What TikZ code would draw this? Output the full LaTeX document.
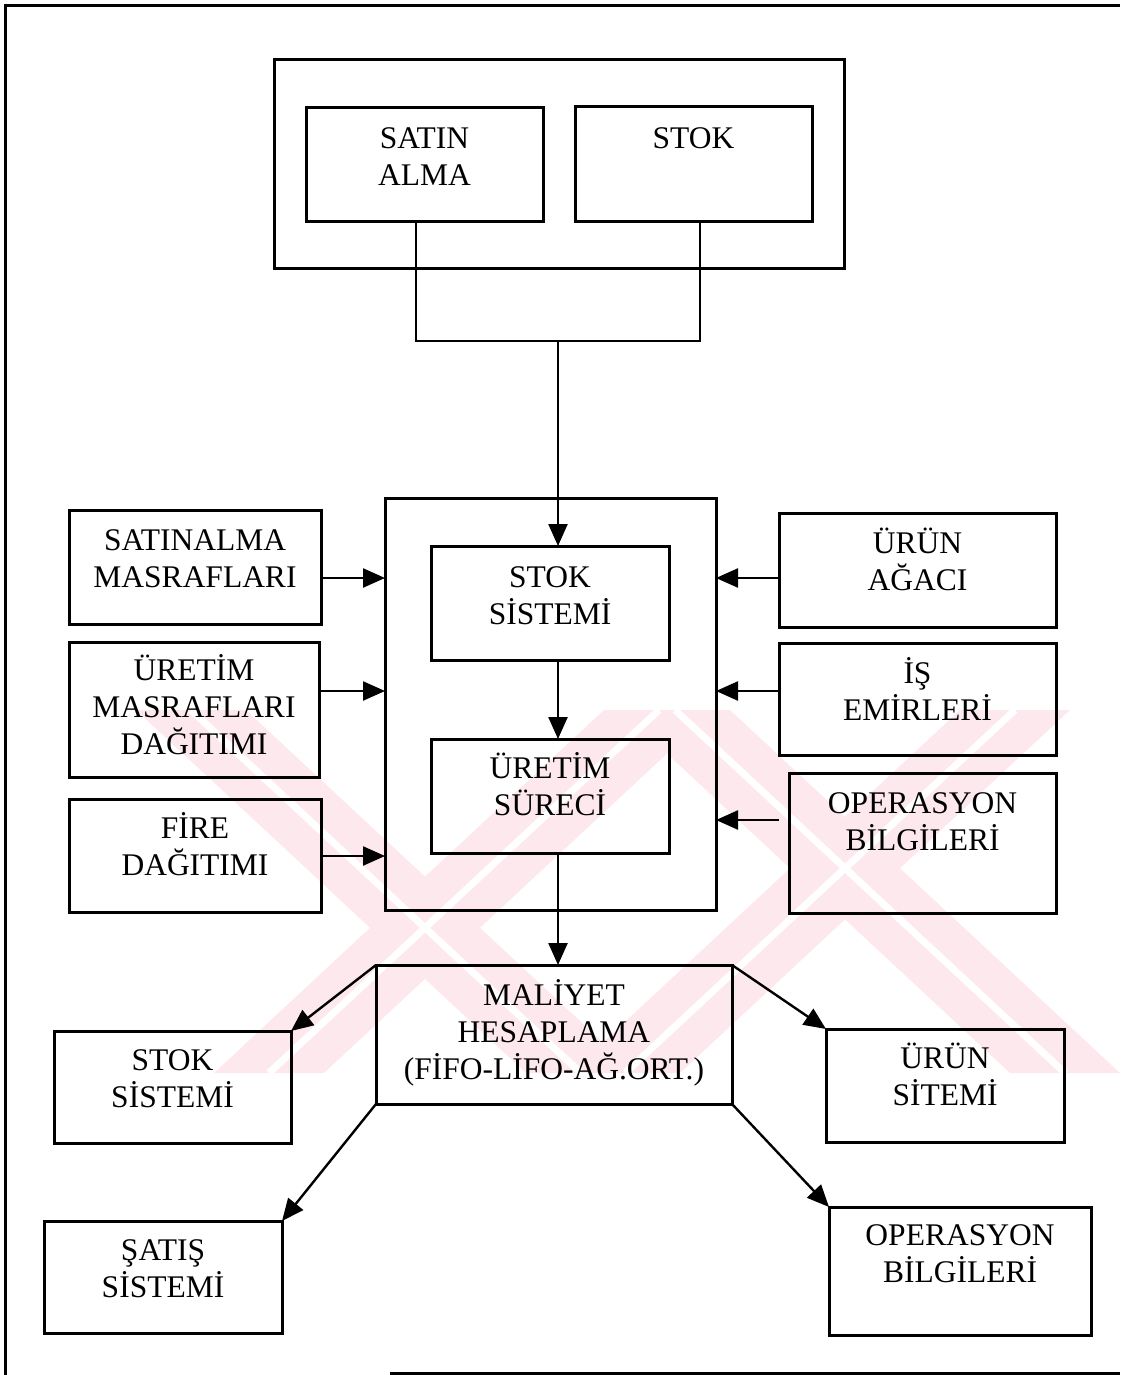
\documentclass[tikz,border=0pt]{standalone}
\usepackage{fontspec}
\setmainfont{Liberation Serif}
\usetikzlibrary{arrows.meta}
\definecolor{wmpink}{RGB}{253,233,237}
% fixed first-line height so every label starts at the same offset
\newcommand\lh{\rule{0pt}{30pt}}
\begin{document}
\begin{tikzpicture}[x=1pt,y=-1pt,
  box/.style={draw, line width=3pt, inner sep=0pt, outer sep=0pt},
  lbl/.style={anchor=north, yshift=19.6pt, align=center, inner sep=0pt,
              font=\fontsize{31.5}{37}\selectfont},
  conn/.style={line width=2.4pt},
  arr/.style={conn, -{Triangle[length=22pt,width=19pt]}},
  frameline/.style={line width=3pt},
  wmband/.style={fill=wmpink, draw=none},
  wmgap/.style={draw=white, line width=7pt},
]
\useasboundingbox (0,0) rectangle (1120,1375);

% faint background emblem
\begin{scope}
  \clip (60,710) rectangle (1120,1073);
  \fill[wmband] (136,710) -- (246,710) -- (636,1073) -- (526,1073) -- cycle;
  \fill[wmband] (214,1073) -- (324,1073) -- (714,710) -- (604,710) -- cycle;
  \fill[wmband] (620,710) -- (730,710) -- (1120,1073) -- (1010,1073) -- cycle;
  \fill[wmband] (570,1073) -- (680,1073) -- (1070,710) -- (960,710) -- cycle;
  \draw[wmgap] (191,710) -- (581,1073);
  \draw[wmgap] (269,1073) -- (659,710);
  \draw[wmgap] (675,710) -- (1065,1073);
  \draw[wmgap] (625,1073) -- (1015,710);
\end{scope}

% page frame
\draw[frameline] (5,1375) -- (5,6) -- (1120,6);
\draw[frameline] (390,1373) -- (1120,1373);

% top group
\node[box, minimum width=570pt, minimum height=208pt] (topc) at (559,164) {};
\node[box, minimum width=237pt, minimum height=113pt] (satin) at (424.5,164.5) {};
\node[box, minimum width=237pt, minimum height=114pt] (stok) at (693.5,164) {};
\node[lbl] (satin-t) at (424.5,138) {\lh SATIN\\ALMA};
\node[lbl] (stok-t) at (693.5,138) {\lh STOK};

% central process
\node[box, minimum width=331pt, minimum height=412pt] (midc) at (550.5,704) {};
\node[box, minimum width=238pt, minimum height=114pt] (stoks) at (550,603) {};
\node[box, minimum width=238pt, minimum height=114pt] (uret) at (550,796) {};
\node[lbl] (stoks-t) at (550,577) {\lh STOK\\SİSTEMİ};
\node[lbl] (uret-t) at (550,768) {\lh ÜRETİM\\SÜRECİ};

% left inputs
\node[box, minimum width=252pt, minimum height=114pt] (smas) at (195,567) {};
\node[box, minimum width=250pt, minimum height=135pt] (umas) at (194,709.5) {};
\node[box, minimum width=252pt, minimum height=113pt] (fire) at (195,855.5) {};
\node[lbl] (smas-t) at (195,540) {\lh SATINALMA\\MASRAFLARI};
\node[lbl] (umas-t) at (194,670) {\lh ÜRETİM\\MASRAFLARI\\DAĞITIMI};
\node[lbl] (fire-t) at (195,828) {\lh FİRE\\DAĞITIMI};

% right inputs
\node[box, minimum width=277pt, minimum height=114pt] (urun) at (917.5,570) {};
\node[box, minimum width=277pt, minimum height=112pt] (isem) at (917.5,699) {};
\node[box, minimum width=267pt, minimum height=140pt] (ops) at (922.5,843) {};
\node[lbl] (urun-t) at (917.5,543) {\lh ÜRÜN\\AĞACI};
\node[lbl] (isem-t) at (917.5,673) {\lh İŞ\\EMİRLERİ};
\node[lbl] (ops-t) at (922.5,803) {\lh OPERASYON\\BİLGİLERİ};

% costing and outputs
\node[box, minimum width=356pt, minimum height=139pt] (mal) at (554,1034.5) {};
\node[box, minimum width=237pt, minimum height=112pt] (stok2) at (172.5,1087) {};
\node[box, minimum width=238pt, minimum height=113pt] (urun2) at (945,1085.5) {};
\node[box, minimum width=238pt, minimum height=112pt] (satis) at (163,1277) {};
\node[box, minimum width=262pt, minimum height=128pt] (ops2) at (960,1271) {};
\node[lbl] (mal-t) at (554,995) {\lh MALİYET\\HESAPLAMA\\(FİFO-LİFO-AĞ.ORT.)};
\node[lbl] (stok2-t) at (172.5,1060) {\lh STOK\\SİSTEMİ};
\node[lbl] (urun2-t) at (945,1058) {\lh ÜRÜN\\SİTEMİ};
\node[lbl] (satis-t) at (163,1250) {\lh ŞATIŞ\\SİSTEMİ};
\node[lbl] (ops2-t) at (960,1235) {\lh OPERASYON\\BİLGİLERİ};

% connectors
\coordinate (join) at (558,341);
\coordinate (opsin) at (779,820);
\draw[conn] (satin.south -| 416,0) |- (join) -| (stok.south -| 700,0);
\draw[arr] (join) -- (join |- stoks.north);
\draw[arr] (stoks.south -| join) -- (uret.north -| join);
\draw[arr] (uret.south -| join) -- (mal.north -| join);

\draw[arr] (smas.east |- 0,578) -- (midc.west |- 0,578);
\draw[arr] (umas.east |- 0,691) -- (midc.west |- 0,691);
\draw[arr] (fire.east |- 0,856) -- (midc.west |- 0,856);
\draw[arr] (urun.west |- 0,578) -- (midc.east |- 0,578);
\draw[arr] (isem.west |- 0,691) -- (midc.east |- 0,691);
\draw[arr] (opsin) -- (midc.east |- opsin);

\draw[arr] (mal.north west) -- (stok2.north east);
\draw[arr] (mal.north east) -- (urun2.north west);
\draw[arr] (mal.south west) -- (satis.north east);
\draw[arr] (mal.south east) -- (ops2.north west);
\end{tikzpicture}
\end{document}
